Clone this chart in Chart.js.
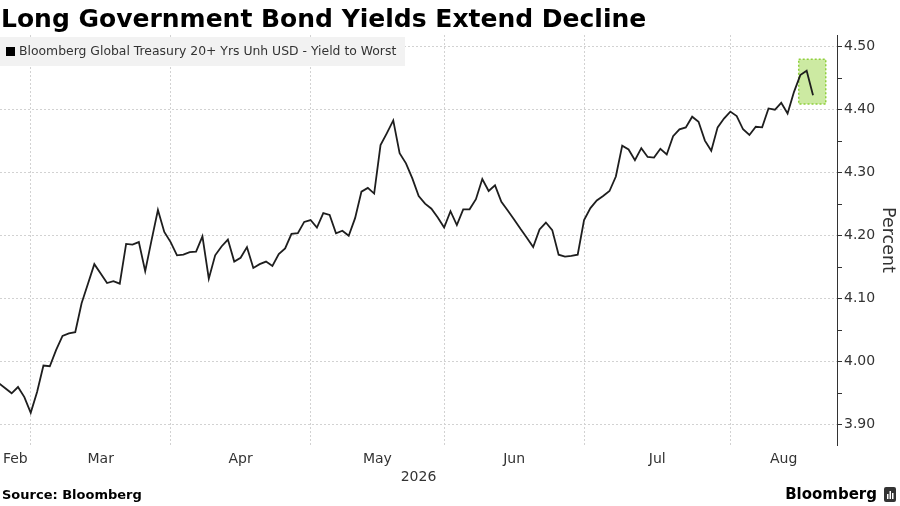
<!DOCTYPE html>
<html>
<head>
<meta charset="utf-8">
<script src="https://cdn.jsdelivr.net/npm/chart.js@4.4.1/dist/chart.umd.min.js"></script>
<style>
  html, body { margin: 0; padding: 0; background: #fff; }
  #wrap { width: 900px; height: 506px; position: relative; }
</style>
</head>
<body>
<div id="wrap"><canvas id="chart"></canvas></div>
<script>
// daily yield to worst, one value per weekday starting 2026-02-23
const firstDay = '2026-02-23';
const yields = [
  3.966, 3.958, 3.950, 3.960, 3.944, 3.919, 3.952, 3.994, 3.993, 4.019,
  4.041, 4.045, 4.047, 4.093, 4.124, 4.155, 4.140, 4.125, 4.128, 4.124,
  4.187, 4.186, 4.190, 4.144, 4.193, 4.241, 4.206, 4.190, 4.169, 4.170,
  4.174, 4.175, 4.199, 4.132, 4.169, 4.183, 4.194, 4.159, 4.165, 4.182,
  4.149, 4.155, 4.159, 4.152, 4.171, 4.180, 4.203, 4.204, 4.222, 4.225,
  4.213, 4.236, 4.233, 4.204, 4.208, 4.200, 4.228, 4.270, 4.276, 4.267,
  4.344, 4.363, 4.383, 4.331, 4.315, 4.291, 4.263, 4.251, 4.243, 4.229,
  4.213, 4.239, 4.217, 4.242, 4.242, 4.258, 4.290, 4.271, 4.280, 4.254,
  4.240, 4.226, 4.211, 4.197, 4.182, 4.210, 4.221, 4.209, 4.170, 4.167,
  4.168, 4.170, 4.225, 4.244, 4.256, 4.263, 4.271, 4.294, 4.343, 4.337,
  4.320, 4.339, 4.325, 4.324, 4.338, 4.329, 4.358, 4.369, 4.372, 4.389,
  4.381, 4.351, 4.335, 4.372, 4.386, 4.397, 4.390, 4.369, 4.360, 4.373,
  4.372, 4.402, 4.400, 4.411, 4.394, 4.428, 4.455, 4.462, 4.423
];
const monthLabels = ['Feb', 'Mar', 'Apr', 'May', 'Jun', 'Jul', 'Aug'];
const yearLabel = '2026';
const yTicks = [3.90, 3.95, 4.00, 4.05, 4.10, 4.15, 4.20, 4.25, 4.30, 4.35, 4.40, 4.45, 4.50];
// latest move highlighted (index range and yield range)
const highlight = { from: 125.75, to: 130, low: 4.409, high: 4.480 };

// weekday calendar so that months line up like the trading-day axis
function weekdays(from, to) {
  const out = [];
  const d = new Date(from + 'T00:00:00Z');
  const end = new Date(to + 'T00:00:00Z');
  while (d <= end) {
    const w = d.getUTCDay();
    if (w > 0 && w < 6) out.push(d.toISOString().slice(0, 10));
    d.setUTCDate(d.getUTCDate() + 1);
  }
  return out;
}
const calendar = weekdays('2026-02-01', '2026-09-30');
const offset = calendar.indexOf(firstDay);
const monthStart = [];
for (let m = 2; m <= 9; m++) {
  const key = '2026-' + String(m).padStart(2, '0');
  monthStart.push(calendar.findIndex(d => d.startsWith(key)) - offset);
}
const points = yields.map((v, i) => ({ x: i, y: v }));

const xMin = 0.17, xMax = 131.77;
const gridTicks = monthStart.filter(v => v > xMin && v < xMax);
const labelTicks = monthLabels.map((m, i) => {
  const a = Math.max(monthStart[i], xMin), b = Math.min(monthStart[i + 1], xMax);
  return (a + b) / 2;
});

const FONT = '"DejaVu Sans", sans-serif';

const decor = {
  id: 'decor',
  beforeDatasetsDraw(chart) {
    const { ctx, scales: { x, y } } = chart;
    const l = x.getPixelForValue(highlight.from), r = x.getPixelForValue(highlight.to);
    const t = y.getPixelForValue(highlight.high), b = y.getPixelForValue(highlight.low);
    ctx.save();
    ctx.fillStyle = 'rgba(170, 220, 100, 0.6)';
    ctx.fillRect(l, t, r - l, b - t);
    ctx.strokeStyle = '#8fcf3c';
    ctx.lineWidth = 1.5;
    ctx.setLineDash([2, 2]);
    ctx.strokeRect(l, t, r - l, b - t);
    ctx.restore();
  },
  afterDraw(chart) {
    const { ctx, chartArea } = chart;
    ctx.save();
    // title
    ctx.fillStyle = '#000';
    ctx.textBaseline = 'alphabetic';
    ctx.font = 'bold 25px ' + FONT;
    ctx.fillText('Long Government Bond Yields Extend Decline', 1, 27);
    // legend
    ctx.fillStyle = '#f2f2f2';
    ctx.fillRect(0, 37, 405, 29);
    ctx.fillStyle = '#000';
    ctx.fillRect(6, 47, 9, 9);
    ctx.fillStyle = '#333';
    ctx.font = '12.4px ' + FONT;
    ctx.textBaseline = 'middle';
    ctx.fillText('Bloomberg Global Treasury 20+ Yrs Unh USD - Yield to Worst', 19, 52);
    // year under month labels
    ctx.font = '14px ' + FONT;
    ctx.textAlign = 'center';
    ctx.fillText(yearLabel, (chartArea.left + chartArea.right) / 2, 477);
    // footer
    ctx.textAlign = 'left';
    ctx.fillStyle = '#000';
    ctx.font = 'bold 13px ' + FONT;
    ctx.fillText('Source: Bloomberg', 2, 496);
    ctx.font = 'bold 15px ' + FONT;
    ctx.textAlign = 'right';
    ctx.fillText('Bloomberg', 877, 495);
    // logo mark
    ctx.fillStyle = '#333';
    ctx.beginPath();
    ctx.roundRect(884, 487, 12, 15, 2);
    ctx.fill();
    ctx.fillStyle = '#fff';
    ctx.fillRect(887, 494, 1.5, 5);
    ctx.fillRect(889.5, 491, 1.5, 8);
    ctx.fillRect(892, 493, 1.5, 6);
    ctx.restore();
  }
};

new Chart(document.getElementById('chart'), {
  type: 'line',
  data: {
    datasets: [{
      label: 'Bloomberg Global Treasury 20+ Yrs Unh USD - Yield to Worst',
      data: points,
      xAxisID: 'x',
      yAxisID: 'y',
      borderColor: '#1e1e1e',
      borderWidth: 1.8,
      pointRadius: 0,
      tension: 0
    }]
  },
  options: {
    responsive: true,
    maintainAspectRatio: false,
    animation: false,
    layout: { padding: { top: 35, left: 0, right: 0, bottom: 0 } },
    plugins: {
      legend: { display: false },
      title: { display: false },
      tooltip: { enabled: false }
    },
    scales: {
      x: {
        type: 'linear',
        position: 'bottom',
        min: xMin,
        max: xMax,
        afterBuildTicks: s => { s.ticks = gridTicks.map(v => ({ value: v })); },
        afterFit: s => { s.height = 0; s.paddingLeft = 0; s.paddingRight = 0; },
        ticks: { display: false },
        grid: { color: '#d2d2d2', lineWidth: 1, drawTicks: false },
        border: { display: false, dash: [2, 2] }
      },
      xl: {
        type: 'linear',
        position: 'bottom',
        min: xMin,
        max: xMax,
        afterBuildTicks: s => { s.ticks = labelTicks.map(v => ({ value: v })); },
        afterFit: s => { s.height = 61; s.paddingLeft = 0; s.paddingRight = 0; },
        ticks: {
          autoSkip: false,
          maxRotation: 0,
          padding: 6,
          color: '#333',
          font: { family: FONT, size: 14 },
          callback: (v, i) => monthLabels[i]
        },
        grid: { display: false, drawTicks: false },
        border: { display: false }
      },
      y: {
        type: 'linear',
        position: 'right',
        min: 3.868,
        max: 4.5186,
        afterBuildTicks: s => { s.ticks = yTicks.map(v => ({ value: v })); },
        afterFit: s => { s.width = 63; },
        ticks: {
          padding: 2,
          color: '#333',
          font: { family: FONT, size: 14 },
          callback: v => (Math.round(v * 100) % 10 === 0 ? v.toFixed(2) : '')
        },
        grid: {
          color: c => (c.tick && Math.round(c.tick.value * 100) % 10 === 0 ? '#d2d2d2' : 'rgba(0,0,0,0)'),
          lineWidth: 1,
          tickLength: 5,
          tickColor: '#333',
          tickBorderDash: []
        },
        border: { display: true, color: '#333', width: 1, dash: [2, 2] },
        title: {
          display: true,
          text: 'Percent',
          color: '#333',
          font: { family: FONT, size: 17.5 },
          padding: { top: 2, bottom: 3 }
        }
      }
    }
  },
  plugins: [decor]
});
</script>
</body>
</html>
